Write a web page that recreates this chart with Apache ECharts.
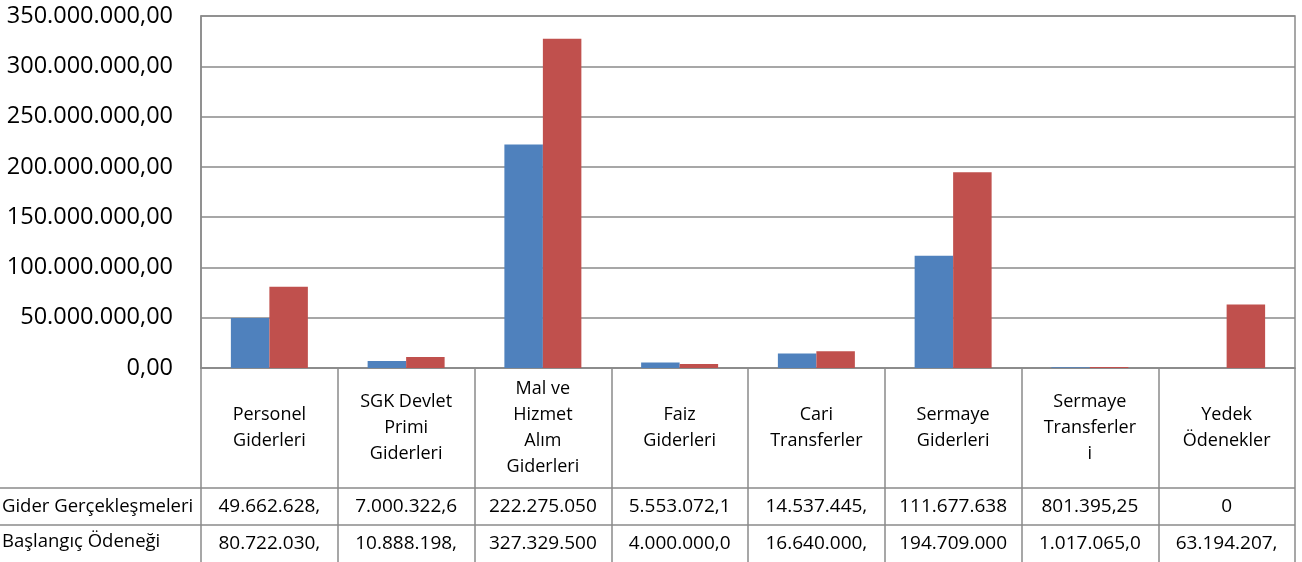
<!DOCTYPE html>
<html>
<head>
<meta charset="utf-8">
<script src="https://cdn.jsdelivr.net/npm/echarts@6/dist/echarts.min.js"></script>
<style>
html,body{margin:0;padding:0;background:#fff;}
#c{width:1302px;height:562px;}
</style>
</head>
<body>
<div id="c"></div>
<script>
const categories = [
  "Personel\nGiderleri",
  "SGK Devlet\nPrimi\nGiderleri",
  "Mal ve\nHizmet\nAlım\nGiderleri",
  "Faiz\nGiderleri",
  "Cari\nTransferler",
  "Sermaye\nGiderleri",
  "Sermaye\nTransferler\ni",
  "Yedek\nÖdenekler"
];
const seriesNames = ["Gider Gerçekleşmeleri", "Başlangıç Ödeneği"];
const giderValues = [49662628, 7000322.6, 222275050, 5553072.1, 14537445, 111677638, 801395.25, 0];
const baslangicValues = [80722030, 10888198, 327329500, 4000000, 16640000, 194709000, 1017065, 63194207];
const giderLabels = ["49.662.628,", "7.000.322,6", "222.275.050", "5.553.072,1", "14.537.445,", "111.677.638", "801.395,25", "0"];
const baslangicLabels = ["80.722.030,", "10.888.198,", "327.329.500", "4.000.000,0", "16.640.000,", "194.709.000", "1.017.065,0", "63.194.207,"];
const yTicks = [0, 50000000, 100000000, 150000000, 200000000, 250000000, 300000000, 350000000];

const gray = '#8a8a8a';
const font = 'Open Sans';

function fmt(v) {
  const s = Math.round(v).toString().replace(/\B(?=(\d{3})+(?!\d))/g, '.');
  return s + ',00';
}

const chart = echarts.init(document.getElementById('c'));
const gridTop = 16, gridBottom = 194, gridLeft = 201, gridRight = 7;
const H = 562;
const row1Top = 488, row2Top = 525;

chart.setOption({
  animation: false,
  textStyle: { fontFamily: font },
  grid: {
    left: gridLeft, right: gridRight, top: gridTop, bottom: gridBottom,
    show: true, borderColor: gray, borderWidth: 1.5, containLabel: false
  },
  yAxis: {
    type: 'value',
    min: yTicks[0], max: yTicks[yTicks.length - 1], interval: 50000000,
    axisLine: { show: true, lineStyle: { color: gray, width: 1.5 } },
    axisTick: { show: false },
    splitLine: { show: true, lineStyle: { color: gray, width: 1.5 } },
    axisLabel: { color: '#000', fontSize: 23.5, fontFamily: font, margin: 28, formatter: fmt }
  },
  xAxis: [
    {
      type: 'category', data: categories, position: 'bottom',
      axisLine: { show: true, lineStyle: { color: gray, width: 1.5 } },
      axisTick: { show: true, interval: 0, length: gridBottom, lineStyle: { color: gray, width: 1.5 } },
      axisLabel: { interval: 0, color: '#000', fontSize: 18, lineHeight: 26, margin: 60, verticalAlign: 'middle', align: 'center', fontFamily: font }
    },
    {
      type: 'category', data: giderLabels, position: 'bottom',
      axisLine: { show: false }, axisTick: { show: false },
      axisLabel: { interval: 0, color: '#000', fontSize: 19, margin: (row1Top + row2Top) / 2 - (H - gridBottom), verticalAlign: 'middle', align: 'center', fontFamily: font }
    },
    {
      type: 'category', data: baslangicLabels, position: 'bottom',
      axisLine: { show: false }, axisTick: { show: false },
      axisLabel: { interval: 0, color: '#000', fontSize: 19, margin: (row2Top + H) / 2 - (H - gridBottom), verticalAlign: 'middle', align: 'center', fontFamily: font }
    }
  ],
  series: [
    { name: seriesNames[0], type: 'bar', data: giderValues, xAxisIndex: 0, barGap: '0%', barCategoryGap: '43.7%', itemStyle: { color: '#4F81BD' } },
    { name: seriesNames[1], type: 'bar', data: baslangicValues, xAxisIndex: 0, barGap: '0%', barCategoryGap: '43.7%', itemStyle: { color: '#C0504D' } }
  ],
  graphic: [
    { type: 'line', shape: { x1: 0, y1: row1Top, x2: 1302 - gridRight, y2: row1Top }, style: { stroke: gray, lineWidth: 1.5 } },
    { type: 'line', shape: { x1: 0, y1: row2Top, x2: 1302 - gridRight, y2: row2Top }, style: { stroke: gray, lineWidth: 1.5 } },
    { type: 'text', x: 2, y: (row1Top + row2Top) / 2, style: { text: seriesNames[0], fill: '#000', fontSize: 18.5, fontFamily: font, verticalAlign: 'middle', align: 'left' } },
    { type: 'text', x: 2, y: (row2Top + H) / 2 - 2, style: { text: seriesNames[1], fill: '#000', fontSize: 18.5, fontFamily: font, verticalAlign: 'middle', align: 'left' } }
  ]
});
</script>
</body>
</html>
